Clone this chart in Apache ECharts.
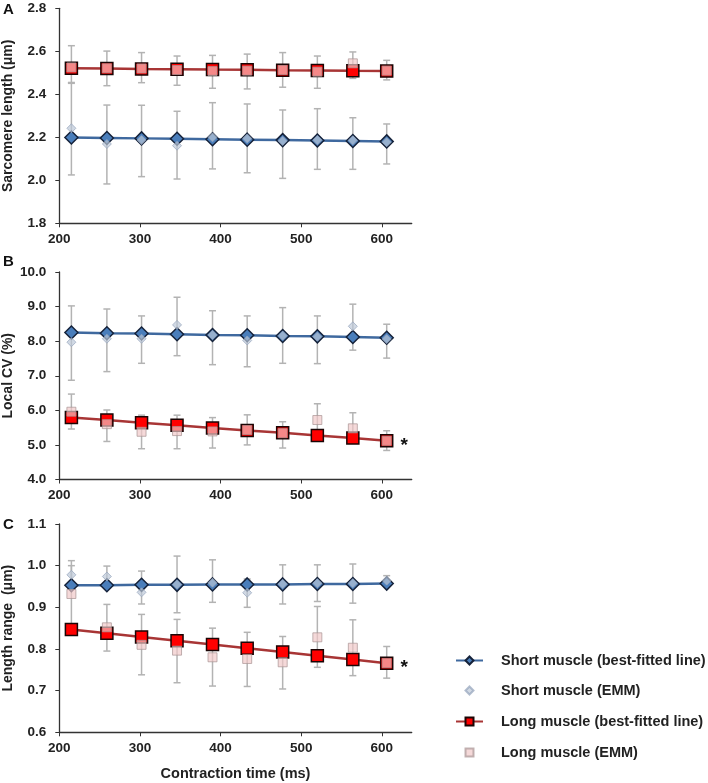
<!DOCTYPE html>
<html>
<head>
<meta charset="utf-8">
<script src="https://cdn.jsdelivr.net/npm/echarts@6/dist/echarts.min.js"></script>
<style>
html,body{margin:0;padding:0;background:#fff;}
#chart{width:708px;height:783px;}
</style>
</head>
<body>
<div id="chart"></div>
<script>
// Contraction time (ms) of each point
const timeMs = [215, 259, 302, 346, 390, 433, 477, 520, 564, 606];
const xTicks = [200, 300, 400, 500, 600];

// Panel A: Sarcomere length (um)
const slShortFit  = [2.199, 2.197, 2.195, 2.193, 2.191, 2.189, 2.187, 2.185, 2.183, 2.181];
const slShortEmm  = [2.242, 2.169, 2.187, 2.161, 2.200, 2.195, 2.183, 2.187, 2.186, 2.177];
const slShortLow  = [2.025, 1.983, 2.017, 2.006, 2.053, 2.035, 2.009, 2.051, 2.051, 2.076];
const slShortHigh = [2.451, 2.350, 2.349, 2.321, 2.361, 2.355, 2.327, 2.333, 2.291, 2.262];
const slLongFit   = [2.521, 2.520, 2.518, 2.517, 2.515, 2.514, 2.512, 2.511, 2.509, 2.508];
const slLongEmm   = [2.525, 2.521, 2.520, 2.513, 2.508, 2.510, 2.513, 2.505, 2.544, 2.510];
const slLongLow   = [2.455, 2.440, 2.454, 2.442, 2.428, 2.425, 2.433, 2.428, 2.474, 2.467];
const slLongHigh  = [2.626, 2.601, 2.594, 2.578, 2.581, 2.587, 2.594, 2.578, 2.597, 2.558];

// Panel B: Local CV (%)
const cvShortFit  = [8.25, 8.23, 8.22, 8.20, 8.18, 8.17, 8.15, 8.14, 8.12, 8.10];
const cvShortEmm  = [7.97, 8.07, 8.07, 8.47, 8.18, 8.02, 8.16, 8.13, 8.43, 8.06];
const cvShortLow  = [6.87, 7.12, 7.36, 7.58, 7.32, 7.26, 7.36, 7.35, 7.74, 7.51];
const cvShortHigh = [9.02, 8.93, 8.73, 9.27, 8.88, 8.73, 8.97, 8.73, 9.07, 8.49];
const cvLongFit   = [5.79, 5.72, 5.64, 5.57, 5.49, 5.42, 5.35, 5.27, 5.20, 5.12];
const cvLongEmm   = [5.96, 5.60, 5.38, 5.40, 5.39, 5.43, 5.34, 5.72, 5.48, 5.12];
const cvLongLow   = [5.46, 5.10, 4.89, 4.89, 4.91, 5.00, 4.91, 5.32, 5.10, 4.84];
const cvLongHigh  = [6.47, 6.01, 5.86, 5.86, 5.79, 5.87, 5.67, 6.19, 5.93, 5.41];

// Panel C: Length range (um)
const lrShortFit  = [0.953, 0.953, 0.954, 0.954, 0.955, 0.955, 0.955, 0.956, 0.956, 0.957];
const lrShortEmm  = [0.978, 0.974, 0.936, 0.955, 0.959, 0.935, 0.956, 0.958, 0.958, 0.964];
const lrShortLow  = [0.945, 0.949, 0.908, 0.887, 0.912, 0.900, 0.908, 0.914, 0.910, 0.955];
const lrShortHigh = [1.012, 0.999, 0.987, 1.023, 1.014, 0.968, 1.002, 1.002, 1.004, 0.976];
const lrLongFit   = [0.847, 0.838, 0.829, 0.820, 0.811, 0.802, 0.793, 0.784, 0.775, 0.766];
const lrLongEmm   = [0.932, 0.852, 0.810, 0.796, 0.780, 0.776, 0.768, 0.828, 0.803, 0.766];
const lrLongLow   = [0.858, 0.795, 0.738, 0.719, 0.711, 0.710, 0.704, 0.756, 0.736, 0.730];
const lrLongHigh  = [1.000, 0.907, 0.883, 0.871, 0.850, 0.840, 0.830, 0.902, 0.870, 0.806];

const panelLetters = ['A', 'B', 'C'];
const yNames = ['Sarcomere length (\u03bcm)', 'Local CV (%)', 'Length range  (\u03bcm)'];
const yRanges = [[1.8, 2.8, 0.2], [4.0, 10.0, 1.0], [0.6, 1.1, 0.1]];
const xName = 'Contraction time (ms)';
const names = ['Short muscle (best-fitted line)', 'Short muscle (EMM)', 'Long muscle (best-fitted line)', 'Long muscle (EMM)'];

const FONT = '"Liberation Sans", Arial, sans-serif';
const grids = [
  {left: 59.3, top: 8.3, width: 352.4, height: 215},
  {left: 59.3, top: 272, width: 352.4, height: 207.5},
  {left: 59.3, top: 524, width: 352.4, height: 208.3}
];
const panels = [
  {sf: slShortFit, se: slShortEmm, sl: slShortLow, sh: slShortHigh, lf: slLongFit, le: slLongEmm, ll: slLongLow, lh: slLongHigh, star: false},
  {sf: cvShortFit, se: cvShortEmm, sl: cvShortLow, sh: cvShortHigh, lf: cvLongFit, le: cvLongEmm, ll: cvLongLow, lh: cvLongHigh, star: true},
  {sf: lrShortFit, se: lrShortEmm, sl: lrShortLow, sh: lrShortHigh, lf: lrLongFit, le: lrLongEmm, ll: lrLongLow, lh: lrLongHigh, star: true}
];

const pairs = arr => arr.map((v, i) => [timeMs[i], v]);
const triples = (lo, hi) => lo.map((v, i) => [timeMs[i], v, hi[i]]);

function errRender(params, api) {
  const lo = api.coord([api.value(0), api.value(1)]);
  const hi = api.coord([api.value(0), api.value(2)]);
  const c = 3.5;
  const st = {stroke: '#b3b3b3', lineWidth: 1.5};
  return {type: 'group', children: [
    {type: 'line', shape: {x1: lo[0], y1: lo[1], x2: hi[0], y2: hi[1]}, style: st},
    {type: 'line', shape: {x1: lo[0] - c, y1: lo[1], x2: lo[0] + c, y2: lo[1]}, style: st},
    {type: 'line', shape: {x1: hi[0] - c, y1: hi[1], x2: hi[0] + c, y2: hi[1]}, style: st}
  ]};
}

const xAxes = [], yAxes = [], series = [];
panels.forEach((p, k) => {
  xAxes.push({
    type: 'value', gridIndex: k, min: 200, max: 637, interval: 100,
    axisLine: {show: true, lineStyle: {color: '#333', width: 1.3}},
    axisTick: {show: true, length: 4, customValues: xTicks, lineStyle: {color: '#333'}},
    axisLabel: {customValues: xTicks, margin: 9, fontFamily: FONT, fontWeight: 'bold', fontSize: 13.5, color: '#222'},
    splitLine: {show: false},
    name: k === 2 ? xName : '', nameLocation: 'middle', nameGap: 34,
    nameTextStyle: {fontFamily: FONT, fontWeight: 'bold', fontSize: 14.5, color: '#222'}
  });
  const r = yRanges[k];
  yAxes.push({
    type: 'value', gridIndex: k, min: r[0], max: r[1], interval: r[2],
    axisLine: {show: true, lineStyle: {color: '#333', width: 1.3}},
    axisTick: {show: true, length: 4, lineStyle: {color: '#333'}},
    axisLabel: {margin: 13, fontFamily: FONT, fontWeight: 'bold', fontSize: 13.5, color: '#222',
      formatter: v => v.toFixed(1)},
    splitLine: {show: false},
    name: yNames[k], nameLocation: 'middle', nameGap: 44,
    nameTextStyle: {fontFamily: FONT, fontWeight: 'bold', fontSize: 14, color: '#222'}
  });
  series.push(
    {type: 'custom', xAxisIndex: k, yAxisIndex: k, renderItem: errRender, data: triples(p.sl, p.sh), encode: {x: 0, y: [1, 2]}, z: 1, silent: true},
    {type: 'custom', xAxisIndex: k, yAxisIndex: k, renderItem: errRender, data: triples(p.ll, p.lh), encode: {x: 0, y: [1, 2]}, z: 1, silent: true},
    {name: names[0], type: 'line', xAxisIndex: k, yAxisIndex: k, data: pairs(p.sf), z: 3,
      symbol: 'diamond', symbolSize: 13,
      itemStyle: {color: '#4a7ebb', borderColor: '#15223a', borderWidth: 1.5},
      lineStyle: {color: '#3f699f', width: 2.5}},
    {name: names[2], type: 'line', xAxisIndex: k, yAxisIndex: k, z: 3,
      data: p.lf.map((v, i) => (p.star && i === p.lf.length - 1) ? {value: [timeMs[i], v],
        label: {show: true, formatter: '*', position: 'right', distance: 7, fontFamily: FONT, fontWeight: 'bold', fontSize: 19, color: '#111', offset: [0, 5]}} : [timeMs[i], v]),
      symbol: 'rect', symbolSize: 12,
      itemStyle: {color: '#ff0000', borderColor: '#1a0505', borderWidth: 1.5},
      lineStyle: {color: '#a83535', width: 2.5}},
    {name: names[1], type: 'scatter', xAxisIndex: k, yAxisIndex: k, data: pairs(p.se), z: 4,
      symbol: 'diamond', symbolSize: 9,
      itemStyle: {color: 'rgba(188,200,216,0.85)', borderColor: 'rgba(150,165,188,0.9)', borderWidth: 1}},
    {name: names[3], type: 'scatter', xAxisIndex: k, yAxisIndex: k, data: pairs(p.le), z: 4,
      symbol: 'rect', symbolSize: 9,
      itemStyle: {color: 'rgba(240,200,200,0.85)', borderColor: 'rgba(170,150,150,0.9)', borderWidth: 1}}
  );
});

const legendTops = [660, 690, 721, 752];
const legendSizes = [[27, 10], [8, 8], [27, 10], [8, 8]];
const legends = names.map((n, i) => {
  const w = legendSizes[i][0];
  const left = 468.5 - w / 2 - 5;           // icon centred at x = 468.5 (legend has 5px padding)
  const pad = 500 - (left + 5 + w + 5);     // text starts at x = 500
  return {
    data: [n], orient: 'vertical', left: left, top: legendTops[i] - 12,
    itemWidth: w, itemHeight: legendSizes[i][1],
    textStyle: {fontFamily: FONT, fontWeight: 'bold', fontSize: 14.5, color: '#222', padding: [0, 0, 0, pad]}
  };
});

const chart = echarts.init(document.getElementById('chart'), null, {renderer: 'canvas'});
chart.setOption({
  animation: false,
  backgroundColor: '#fff',
  grid: grids,
  xAxis: xAxes,
  yAxis: yAxes,
  legend: legends,
  graphic: [
    {type: 'text', left: 3, top: 2, style: {text: panelLetters[0], font: 'bold 15px ' + FONT, fill: '#111'}},
    {type: 'text', left: 3, top: 254, style: {text: panelLetters[1], font: 'bold 15px ' + FONT, fill: '#111'}},
    {type: 'text', left: 3, top: 517, style: {text: panelLetters[2], font: 'bold 15px ' + FONT, fill: '#111'}}
  ],
  series: series
});
</script>
</body>
</html>
